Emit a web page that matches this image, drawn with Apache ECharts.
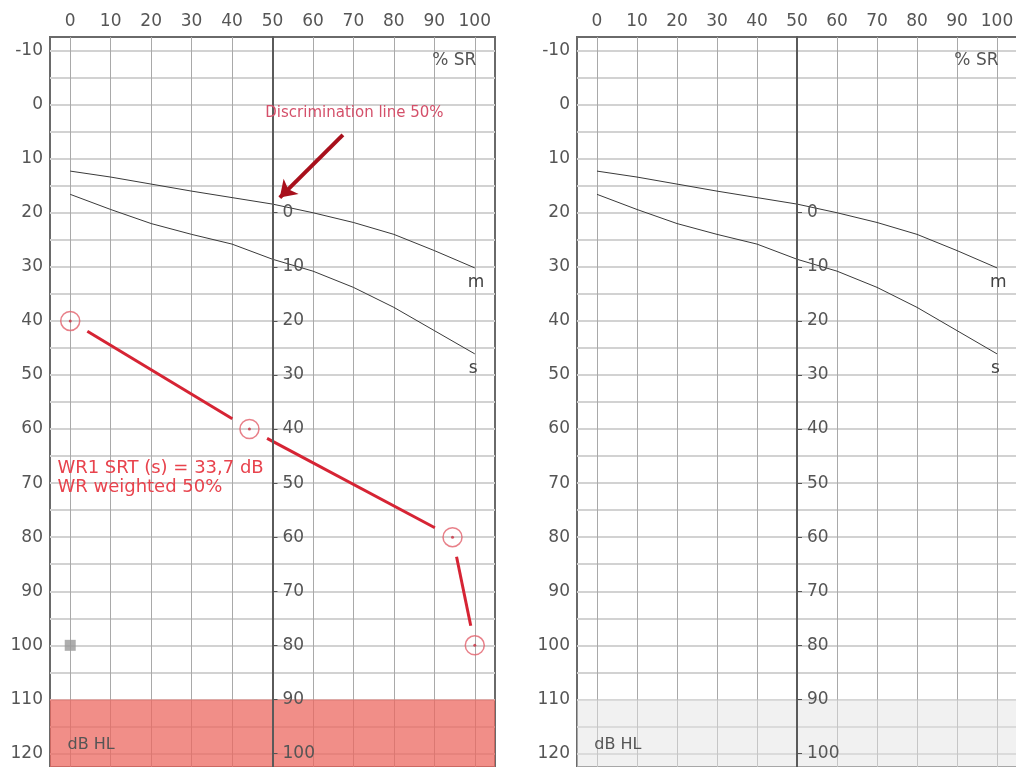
<!DOCTYPE html>
<html>
<head>
<meta charset="utf-8">
<script src="https://cdn.jsdelivr.net/npm/echarts@6/dist/echarts.min.js"></script>
<style>
html, body { margin: 0; padding: 0; background: #fff; }
#container { width: 1016px; height: 767px; }
</style>
</head>
<body>
<div id="container"></div>
<script>
var dom = document.getElementById("container");
var myChart = echarts.init(dom);

// axis ticks
var pctTicks = [0, 10, 20, 30, 40, 50, 60, 70, 80, 90, 100];
var dbTicks = [-10, 0, 10, 20, 30, 40, 50, 60, 70, 80, 90, 100, 110, 120];
var speechTicks = [20, 30, 40, 50, 60, 70, 80, 90, 100, 110, 120];
var speechShift = 20;

// normal curves (m / s)
var curveX = [0, 10, 20, 30, 40, 50, 60, 70, 80, 90, 100];
var mCurve = [12.3, 13.4, 14.7, 16.0, 17.2, 18.4, 20.0, 21.8, 24.0, 27.0, 30.2];
var sCurve = [16.6, 19.4, 22.0, 24.0, 25.8, 28.6, 30.8, 33.8, 37.5, 41.8, 46.1];

// speech recognition points (left ear)
var srX = [0, 44.3, 94.5, 100];
var srDb = [40, 60, 80, 100];

// masking marker
var maskX = [0];
var maskDb = [100];

var uclDb = 110;
var xMin = -5, xMax = 105, yMin = -12.5, yMax = 122.5;
var font = 'DejaVu Sans';
var txt = '#555';

var panels = [
    { left: 50, width: 445, area: 'rgba(236,104,96,0.75)', main: true },
    { left: 577, width: 440, area: 'rgba(228,228,228,0.5)', main: false }
];

function zip(xs, ys) {
    var out = [];
    for (var i = 0; i < xs.length; i++) out.push([xs[i], ys[i]]);
    return out;
}

function gapLine(params, api) {
    var a = api.coord([api.value(0), api.value(1)]);
    var b = api.coord([api.value(2), api.value(3)]);
    var dx = b[0] - a[0], dy = b[1] - a[1];
    var g = 20 / Math.sqrt(dx * dx + dy * dy);
    return {
        type: 'line',
        shape: { x1: a[0] + dx * g, y1: a[1] + dy * g, x2: b[0] - dx * g, y2: b[1] - dy * g },
        style: { stroke: '#d62434', lineWidth: 3 }
    };
}

function note(coord, text, pos, color, size, lh) {
    return {
        coord: coord,
        symbol: 'rect',
        symbolSize: 1,
        itemStyle: { color: 'transparent' },
        label: {
            show: true, position: pos, distance: 0, formatter: text,
            color: color, fontFamily: font, fontSize: size, lineHeight: lh || size + 2
        }
    };
}

var grid = [], xAxis = [], yAxis = [], series = [];

panels.forEach(function (p, i) {
    grid.push({ left: p.left, top: 37, width: p.width, height: 730, show: true,
        borderColor: '#6a6a6a', borderWidth: 2, backgroundColor: '#fff', outerBoundsMode: 'none' });

    xAxis.push({
        type: 'value', gridIndex: i, position: 'top', min: xMin, max: xMax, interval: 5,
        axisLine: { show: false }, axisTick: { show: false },
        axisLabel: { customValues: pctTicks, color: txt, fontFamily: font, fontSize: 17, margin: 7 },
        splitLine: { show: true, lineStyle: { color: ['transparent', '#a9a9a9'], width: 1 } }
    });

    yAxis.push({
        type: 'value', gridIndex: i, inverse: true, min: yMin, max: yMax, interval: 2.5,
        axisLine: { show: false }, axisTick: { show: false },
        axisLabel: { customValues: dbTicks, color: txt, fontFamily: font, fontSize: 17, margin: 7 },
        splitLine: { show: true, lineStyle: { color: ['transparent', '#d2d2d2'], width: 2 } }
    });

    // speech level axis along the 50 % line
    yAxis.push({
        type: 'value', gridIndex: i, inverse: true, min: yMin, max: yMax, interval: 2.5,
        position: 'left', offset: -p.width * (50 - xMin) / (xMax - xMin), z: 5,
        axisLine: { show: true, lineStyle: { color: '#5a5a5a', width: 2 } },
        axisTick: { show: true, inside: true, length: 5, customValues: speechTicks, lineStyle: { color: '#555' } },
        axisLabel: { inside: true, customValues: speechTicks, margin: 10, color: txt, fontFamily: font, fontSize: 17,
            formatter: function (v) { return v - speechShift; } },
        splitLine: { show: false }
    });

    var ya = i * 2;
    var marks = [
        note([100.5, -8.1], '% SR', 'left', txt, 17),
        note([-0.8, 118.4], 'dB HL', 'right', txt, 16)
    ];
    if (p.main) {
        marks.push(note([48.1, 1.5], 'Discrimination line 50%', 'right', '#d4506a', 15));
        marks.push(note([-3.3, 69.1], 'WR1 SRT (s) = 33,7 dB\nWR weighted 50%', 'right', '#e8434d', 18, 19));
    }

    series.push({
        type: 'line', xAxisIndex: i, yAxisIndex: ya, data: zip(curveX, mCurve),
        symbol: 'none', lineStyle: { color: '#3a3a3a', width: 1 }, z: 3,
        endLabel: { show: true, formatter: 'm', color: '#444', fontFamily: font, fontSize: 17, offset: [-15, 15] },
        markArea: { silent: true, itemStyle: { color: p.area }, data: [[{ yAxis: uclDb }, { yAxis: yMax }]] },
        markPoint: { silent: true, data: marks }
    });
    series.push({
        type: 'line', xAxisIndex: i, yAxisIndex: ya, data: zip(curveX, sCurve),
        symbol: 'none', lineStyle: { color: '#3a3a3a', width: 1 }, z: 3,
        endLabel: { show: true, formatter: 's', color: '#444', fontFamily: font, fontSize: 17, offset: [-14, 15] }
    });

    if (p.main) {
        var segs = [];
        for (var k = 0; k < srX.length - 1; k++) segs.push([srX[k], srDb[k], srX[k + 1], srDb[k + 1]]);
        series.push({
            type: 'custom', xAxisIndex: i, yAxisIndex: ya, renderItem: gapLine,
            encode: { x: [0, 2], y: [1, 3] }, data: segs, z: 4,
            markLine: {
                silent: true, symbol: ['none', 'arrow'], symbolSize: 16,
                lineStyle: { color: '#a8101c', width: 4, type: 'solid' },
                label: { show: false },
                data: [[{ coord: [67.4, 5.6] }, { coord: [51.8, 17.2] }]]
            }
        });
        series.push({
            type: 'scatter', xAxisIndex: i, yAxisIndex: ya, data: zip(srX, srDb), z: 5,
            symbol: 'circle', symbolSize: 19,
            itemStyle: { color: 'rgba(255,255,255,0)', borderColor: '#e2606c', borderWidth: 1.5 }
        });
        series.push({
            type: 'scatter', xAxisIndex: i, yAxisIndex: ya, data: zip(srX, srDb), z: 6,
            symbol: 'circle', symbolSize: 3, itemStyle: { color: '#c83040' }
        });
        series.push({
            type: 'scatter', xAxisIndex: i, yAxisIndex: ya, data: zip(maskX, maskDb), z: 5,
            symbol: 'rect', symbolSize: 11, itemStyle: { color: '#9a9a9a' }
        });
    }
});

var option = {
    animation: false,
    backgroundColor: '#fff',
    grid: grid,
    xAxis: xAxis,
    yAxis: yAxis,
    series: series
};
myChart.setOption(option, true);
</script>
</body>
</html>
